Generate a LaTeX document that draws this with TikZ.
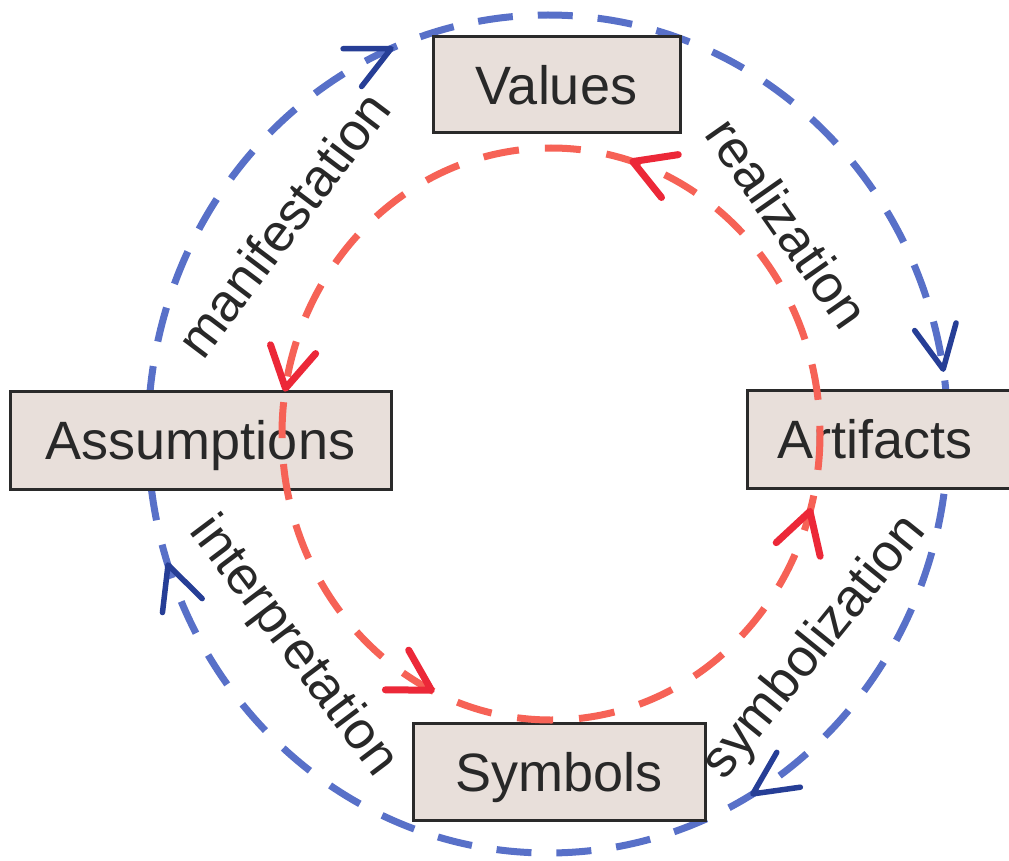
\documentclass[tikz,border=0pt]{standalone}
\usepackage{fontspec}
\setmainfont{Liberation Sans}
\usetikzlibrary{calc}
\definecolor{bluedash}{RGB}{88,112,200}
\definecolor{reddash}{RGB}{246,98,86}
\definecolor{bluehead}{RGB}{38,62,150}
\definecolor{redhead}{RGB}{236,40,56}
\definecolor{boxfill}{RGB}{232,223,218}
\definecolor{boxline}{RGB}{42,42,42}
\definecolor{inkgrey}{RGB}{40,40,40}
\tikzset{
  bluering/.style={draw=bluedash, line width=7pt, dash pattern=on 35pt off 25pt},
  redring/.style={draw=reddash, line width=7pt, dash pattern=on 36pt off 26pt},
  stagebox/.style={draw=boxline, fill=boxfill, line width=3pt, text=inkgrey,
    font=\fontsize{54}{60}\selectfont, inner sep=0pt, text height=39pt, text depth=0pt},
  lbl/.style={text=inkgrey, font=\fontsize{53}{60}\selectfont, inner sep=0pt},
  bluetip/.style={draw=bluehead, line width=5.5pt, line cap=round, line join=round},
  redtip/.style={draw=redhead, line width=7pt, line cap=round, line join=round},
}
\begin{document}
\begin{tikzpicture}[x=1pt,y=-1pt]
\useasboundingbox (0,0) rectangle (1009,861);
\clip (0,0) rectangle (1009,861);
\fill[white] (0,0) rectangle (1009,861);

\coordinate (bc) at (548,434);
\coordinate (rc) at (551,434);

% outer blue cycle (clockwise)
\draw[bluering] (bc) ellipse [x radius=400, y radius=419];

% boxes
\node[stagebox, minimum width=247pt, minimum height=96pt] (values) at (556.5,85) {Values};
\node[stagebox, minimum width=381pt, minimum height=98pt] (assump) at (200.5,440) {Assumptions};
\node[stagebox, minimum width=268pt, minimum height=98pt] (artif) at (881,439) {\hspace*{-12pt}Artifacts};
\node[stagebox, minimum width=292pt, minimum height=97pt] (symb) at (559,771.5) {Symbols};

% inner red cycle (counter-clockwise)
\draw[redring] (rc) ellipse [x radius=269, y radius=286];

% labels
\node[lbl, rotate=53] (lmanif) at (283,224) {manifestation};
\node[lbl, rotate=-55] (lreal) at (788,223) {realization};
\node[lbl, rotate=-53] (linterp) at (293,647) {interpretation};
\node[lbl, rotate=51] (lsymb) at (815,648) {symbolization};

% blue arrow heads (clockwise direction)
\coordinate (bt1) at ($(bc)+(246.9:400 and 419)$);
\coordinate (bb1) at ($(bc)+(242.9:400 and 419)$);
\coordinate (bt2) at ($(bc)+(-8.9:400 and 419)$);
\coordinate (bb2) at ($(bc)+(-12.9:400 and 419)$);
\coordinate (bt3) at ($(bc)+(59.2:400 and 419)$);
\coordinate (bb3) at ($(bc)+(55.2:400 and 419)$);
\coordinate (bt4) at ($(bc)+(161.8:400 and 419)$);
\coordinate (bb4) at ($(bc)+(157.8:400 and 419)$);
\foreach \i in {1,2,3,4}{
  \draw[bluetip] ($(bt\i)!48pt!26:(bb\i)$) -- (bt\i) -- ($(bt\i)!48pt!-26:(bb\i)$);
}

% red arrow heads (counter-clockwise direction)
\coordinate (rt1) at ($(rc)+(-72.3:269 and 286)$);
\coordinate (rb1) at ($(rc)+(-67.3:269 and 286)$);
\coordinate (rt2) at ($(rc)+(189.2:269 and 286)$);
\coordinate (rb2) at ($(rc)+(194.2:269 and 286)$);
\coordinate (rt3) at ($(rc)+(116.4:269 and 286)$);
\coordinate (rb3) at ($(rc)+(121.4:269 and 286)$);
\coordinate (rt4) at ($(rc)+(15.7:269 and 286)$);
\coordinate (rb4) at ($(rc)+(20.7:269 and 286)$);
\foreach \i in {1,2,3,4}{
  \draw[redtip] ($(rt\i)!46pt!30:(rb\i)$) -- (rt\i) -- ($(rt\i)!46pt!-30:(rb\i)$);
}
\end{tikzpicture}
\end{document}
